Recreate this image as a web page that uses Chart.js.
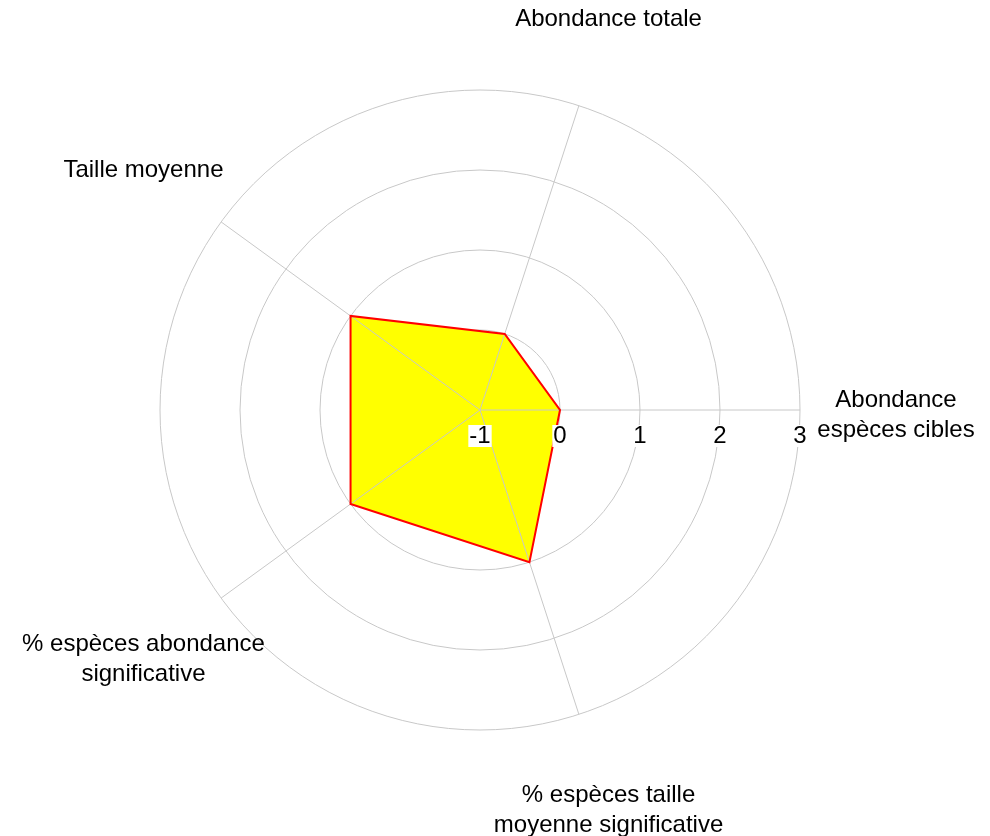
<!DOCTYPE html>
<html>
<head>
<meta charset="utf-8">
<script src="https://cdn.jsdelivr.net/npm/chart.js@4"></script>
<style>
  body { margin: 0; background: #fff; }
  .wrap { width: 990px; height: 836px; position: relative; }
</style>
</head>
<body>
<div class="wrap"><canvas id="radar"></canvas></div>
<script>
// labels go clockwise from the right hand axis
const labels = [
  ['Abondance', 'espèces cibles'],
  ['% espèces taille', 'moyenne significative'],
  ['% espèces abondance', 'significative'],
  'Taille moyenne',
  'Abondance totale'
];
const values = [0, 1, 1, 1, 0];
const tickValues = [-1, 0, 1, 2, 3];

const font = '24px "Liberation Sans", Arial, sans-serif';
const gridColor = '#c8c8c8';

// angle lines over the yellow fill, under the red border
const angleLines = {
  id: 'angleLines',
  beforeDatasetDraw(chart) {
    const s = chart.scales.r;
    const ctx = chart.ctx;
    ctx.save();
    ctx.strokeStyle = gridColor;
    ctx.lineWidth = 1;
    labels.forEach((l, i) => {
      const p = s.getPointPosition(i, s.drawingArea);
      ctx.beginPath();
      ctx.moveTo(s.xCenter, s.yCenter);
      ctx.lineTo(p.x, p.y);
      ctx.stroke();
    });
    ctx.restore();
  }
};

// tick numbers under the right axis + axis names around the outside
const textLayer = {
  id: 'textLayer',
  afterDatasetsDraw(chart) {
    const s = chart.scales.r;
    const ctx = chart.ctx;
    ctx.save();
    ctx.font = font;
    ctx.textAlign = 'center';
    ctx.textBaseline = 'middle';

    tickValues.forEach(v => {
      const x = s.xCenter + s.getDistanceFromCenterForValue(v);
      const y = s.yCenter + 26;
      const txt = String(v);
      const w = ctx.measureText(txt).width;
      ctx.fillStyle = '#fff';
      ctx.fillRect(x - w / 2 - 1, y - 11, w + 2, 22);
      ctx.fillStyle = '#000';
      ctx.fillText(txt, x, y);
    });

    const lh = 30;
    labels.forEach((l, i) => {
      const lines = Array.isArray(l) ? l : [l];
      const p = s.getPointPosition(i, s.drawingArea * 1.3);
      const y0 = p.y + 5 - (lines.length - 1) * lh / 2;
      ctx.fillStyle = '#000';
      lines.forEach((t, j) => ctx.fillText(t, p.x, y0 + j * lh));
    });
    ctx.restore();
  }
};

new Chart(document.getElementById('radar'), {
  type: 'radar',
  data: {
    labels: labels,
    datasets: [{
      data: values,
      backgroundColor: '#ffff00',
      borderColor: '#ff0000',
      borderWidth: 2,
      pointRadius: 0,
      fill: 'start',
      tension: 0
    }]
  },
  options: {
    responsive: true,
    maintainAspectRatio: false,
    animation: false,
    layout: {
      padding: { left: 100, right: 130, top: 90, bottom: 106 }
    },
    plugins: {
      legend: { display: false },
      tooltip: { enabled: false }
    },
    scales: {
      r: {
        min: -1,
        max: 3,
        startAngle: 90,
        ticks: { display: false, stepSize: 1 },
        grid: { circular: true, color: gridColor, lineWidth: 1 },
        angleLines: { display: false },
        pointLabels: { display: false }
      }
    }
  },
  plugins: [angleLines, textLayer]
});
</script>
</body>
</html>
